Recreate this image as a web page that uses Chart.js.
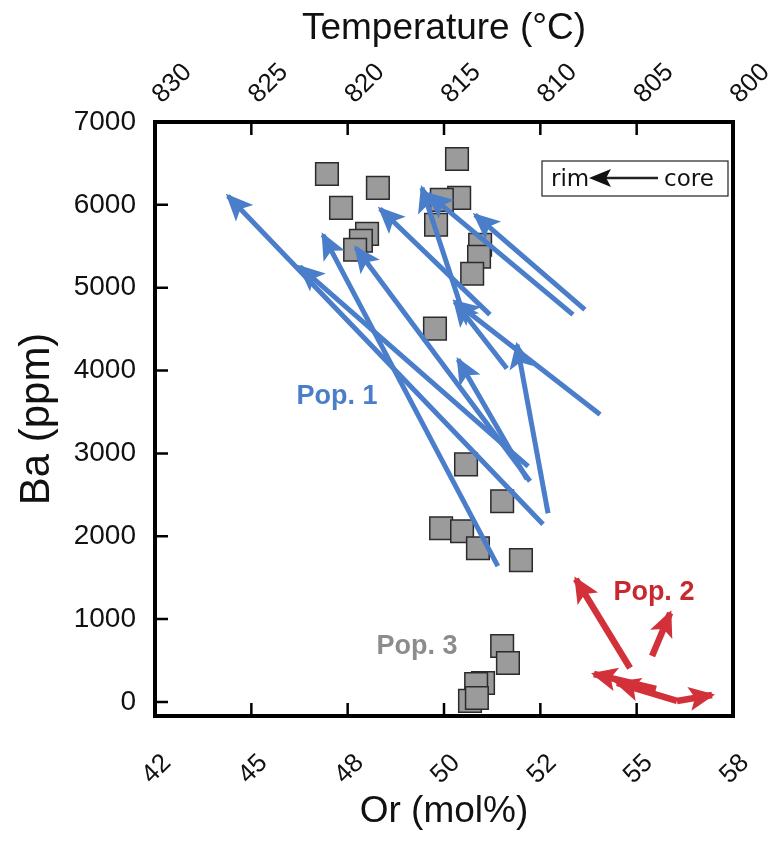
<!DOCTYPE html>
<html>
<head>
<meta charset="utf-8">
<script src="https://cdn.jsdelivr.net/npm/chart.js@4.4.1/dist/chart.umd.min.js"></script>
<style>
  html, body { margin: 0; padding: 0; background: #fff; }
  canvas { display: block; }
</style>
</head>
<body>
<canvas id="orBaChart" width="782" height="843"></canvas>
<script>
// axis ticks
const orTickValues = [42, 44.667, 47.333, 50, 52.667, 55.333, 58];
const orTickLabels = ['42', '45', '48', '50', '52', '55', '58'];
const tempTickValues = [830, 825, 820, 815, 810, 805, 800];
const baTickValues = [0, 1000, 2000, 3000, 4000, 5000, 6000, 7000];

// gray squares
const squareOr = [46.76, 48.17, 47.15, 47.87, 47.70, 47.54, 50.36, 50.42, 49.94, 49.78, 51.00, 50.97, 50.78,
                  49.75, 50.61, 51.61, 49.92, 50.50, 50.94, 52.13, 51.61, 51.77, 51.08, 50.89, 50.72, 50.91];
const squareBa = [6373, 6205, 5964, 5650, 5566, 5458, 6554, 6084, 6060, 5759, 5518, 5373, 5169,
                  4506, 2867, 2422, 2096, 2060, 1855, 1711, 675, 470, 229, 217, 12, 48];

// Pop. 1 zoning, core -> rim
const pop1CoreOr = [52.74, 52.33, 51.49, 52.38, 51.27, 53.57, 53.90, 50.47, 54.32, 51.74, 52.88, 52.30];
const pop1CoreBa = [2145, 2843, 1639, 2663, 4675, 4675, 4735, 4771, 3470, 4024, 2277, 2687];
const pop1RimOr = [44.02, 46.01, 46.65, 47.56, 48.23, 49.56, 50.86, 49.39, 50.30, 50.30, 52.02, 50.39];
const pop1RimBa = [6108, 5253, 5638, 5482, 5952, 6132, 5879, 6205, 4831, 4831, 4313, 4132];

// Pop. 2 zoning, core -> rim
const pop2CoreOr = [55.15, 55.76, 55.87, 56.45, 56.45];
const pop2CoreBa = [410, 554, 157, 12, 12];
const pop2RimOr = [53.65, 56.26, 54.15, 54.79, 57.42];
const pop2RimBa = [1482, 1072, 337, 229, 84];

const BLUE = '#4a7dca';
const RED = '#d2313a';
const FONT = "'Liberation Sans', Arial, Helvetica, sans-serif";

const datasets = [];
function addArrows(coreOr, coreBa, rimOr, rimBa, color, width, head) {
  for (let i = 0; i < coreOr.length; i++) {
    datasets.push({
      data: [{ x: coreOr[i], y: coreBa[i] }, { x: rimOr[i], y: rimBa[i] }],
      showLine: true,
      borderColor: color,
      borderWidth: width,
      borderCapStyle: 'butt',
      pointRadius: 0,
      arrowHead: head
    });
  }
}
addArrows(pop1CoreOr, pop1CoreBa, pop1RimOr, pop1RimBa, BLUE, 5, { len: 27, half: 12 });
addArrows(pop2CoreOr, pop2CoreBa, pop2RimOr, pop2RimBa, RED, 6.5, { len: 26, half: 12 });

// squares last so they sit underneath the arrows
datasets.push({
  data: squareOr.map((x, i) => ({ x: x, y: squareBa[i] })),
  pointStyle: 'rect',
  pointRadius: 16,
  backgroundColor: '#9b9b9b',
  borderColor: '#2b2b2b',
  borderWidth: 1.5
});

function drawHead(ctx, x, y, ang, color, len, half) {
  ctx.save();
  ctx.translate(x, y);
  ctx.rotate(ang);
  ctx.beginPath();
  ctx.moveTo(3, 0);
  ctx.lineTo(3 - len, half);
  ctx.lineTo(3 - len * 0.78, 0);
  ctx.lineTo(3 - len, -half);
  ctx.closePath();
  ctx.fillStyle = color;
  ctx.fill();
  ctx.restore();
}

const labelPlugin = {
  id: 'frameAndNotes',
  afterDatasetDraw(chart, args) {
    const ds = chart.data.datasets[args.index];
    if (!ds.arrowHead) return;
    const pts = args.meta.data;
    const a = pts[0], b = pts[1];
    const ang = Math.atan2(b.y - a.y, b.x - a.x);
    drawHead(chart.ctx, b.x, b.y, ang, ds.borderColor, ds.arrowHead.len, ds.arrowHead.half);
  },
  afterDraw(chart) {
    const ctx = chart.ctx;
    const area = chart.chartArea;
    const sx = chart.scales.x, sy = chart.scales.y, st = chart.scales.xTop;

    // population labels
    ctx.save();
    ctx.textAlign = 'center';
    ctx.textBaseline = 'middle';
    ctx.font = 'bold 27px ' + FONT;
    ctx.fillStyle = BLUE;
    ctx.fillText('Pop. 1', sx.getPixelForValue(47.04), sy.getPixelForValue(3687));
    ctx.fillStyle = '#c9282f';
    ctx.fillText('Pop. 2', sx.getPixelForValue(55.81), sy.getPixelForValue(1325));
    ctx.fillStyle = '#8c8c8c';
    ctx.fillText('Pop. 3', sx.getPixelForValue(49.25), sy.getPixelForValue(663));
    ctx.restore();

    // rim <- core key
    ctx.save();
    const bx = area.right - 191, by = area.top + 39;
    ctx.strokeStyle = '#222';
    ctx.lineWidth = 1.2;
    ctx.strokeRect(bx, by, 186, 35);
    ctx.fillStyle = '#111';
    ctx.font = "23px 'DejaVu Sans', sans-serif";
    ctx.textBaseline = 'alphabetic';
    ctx.textAlign = 'left';
    ctx.fillText('rim', bx + 9, by + 25);
    ctx.fillText('core', bx + 122, by + 25);
    ctx.beginPath();
    ctx.moveTo(bx + 62, by + 17);
    ctx.lineTo(bx + 116, by + 17);
    ctx.lineWidth = 2.5;
    ctx.stroke();
    drawHead(ctx, bx + 50, by + 17, Math.PI, '#111', 22, 9);
    ctx.restore();

    // frame and inward tick marks
    ctx.save();
    ctx.strokeStyle = '#000';
    ctx.lineWidth = 2.5;
    ctx.beginPath();
    baTickValues.forEach(v => {
      const py = sy.getPixelForValue(v);
      ctx.moveTo(area.left, py);
      ctx.lineTo(area.left + 13, py);
    });
    orTickValues.forEach(v => {
      const px = sx.getPixelForValue(v);
      ctx.moveTo(px, area.bottom);
      ctx.lineTo(px, area.bottom - 13);
    });
    tempTickValues.forEach(v => {
      const px = st.getPixelForValue(v);
      ctx.moveTo(px, area.top);
      ctx.lineTo(px, area.top + 13);
    });
    ctx.stroke();
    ctx.lineWidth = 4;
    ctx.strokeRect(area.left, area.top, area.right - area.left, area.bottom - area.top);
    ctx.restore();
  }
};

const tickFont = { family: FONT, size: 26 };

new Chart(document.getElementById('orBaChart'), {
  type: 'scatter',
  data: { datasets: datasets },
  options: {
    responsive: false,
    devicePixelRatio: 1,
    animation: false,
    layout: { padding: { left: 0, right: 49, top: 0, bottom: 0 } },
    plugins: { legend: { display: false }, tooltip: { enabled: false } },
    scales: {
      x: {
        type: 'linear',
        position: 'bottom',
        min: 42,
        max: 58,
        afterBuildTicks: s => { s.ticks = orTickValues.map(v => ({ value: v })); },
        afterFit: s => { s.height = 127; s.paddingLeft = 0; s.paddingRight = 0; },
        grid: { display: false, drawTicks: false },
        border: { display: false },
        ticks: {
          font: tickFont, color: '#111', padding: 32, autoSkip: false,
          minRotation: 45, maxRotation: 45, labelOffset: 12,
          callback: (v, i) => orTickLabels[i]
        },
        title: { display: true, text: 'Or (mol%)', font: { family: FONT, size: 37 }, color: '#111', padding: { top: 0, bottom: 9 } }
      },
      xTop: {
        type: 'linear',
        position: 'top',
        min: 800,
        max: 830,
        reverse: true,
        afterBuildTicks: s => { s.ticks = tempTickValues.map(v => ({ value: v })); },
        afterFit: s => { s.height = 122; s.paddingLeft = 0; s.paddingRight = 0; },
        grid: { display: false, drawTicks: false },
        border: { display: false },
        ticks: {
          font: tickFont, color: '#111', padding: 12, autoSkip: false,
          minRotation: 45, maxRotation: 45, labelOffset: 24,
          callback: v => String(v)
        },
        title: { display: true, text: 'Temperature (°C)', font: { family: FONT, size: 37 }, color: '#111', padding: { top: 7, bottom: 0 } }
      },
      y: {
        type: 'linear',
        position: 'left',
        min: -170,
        max: 7000,
        afterBuildTicks: s => { s.ticks = baTickValues.map(v => ({ value: v })); },
        afterFit: s => { s.width = 155; s.paddingTop = 0; s.paddingBottom = 0; },
        grid: { display: false, drawTicks: false },
        border: { display: false },
        ticks: { font: { family: FONT, size: 28 }, color: '#111', padding: 19, autoSkip: false, callback: v => String(v) },
        title: { display: true, text: 'Ba (ppm)', font: { family: FONT, size: 42 }, color: '#111', padding: { top: 12, bottom: 0 } }
      }
    }
  },
  plugins: [labelPlugin]
});
</script>
</body>
</html>
